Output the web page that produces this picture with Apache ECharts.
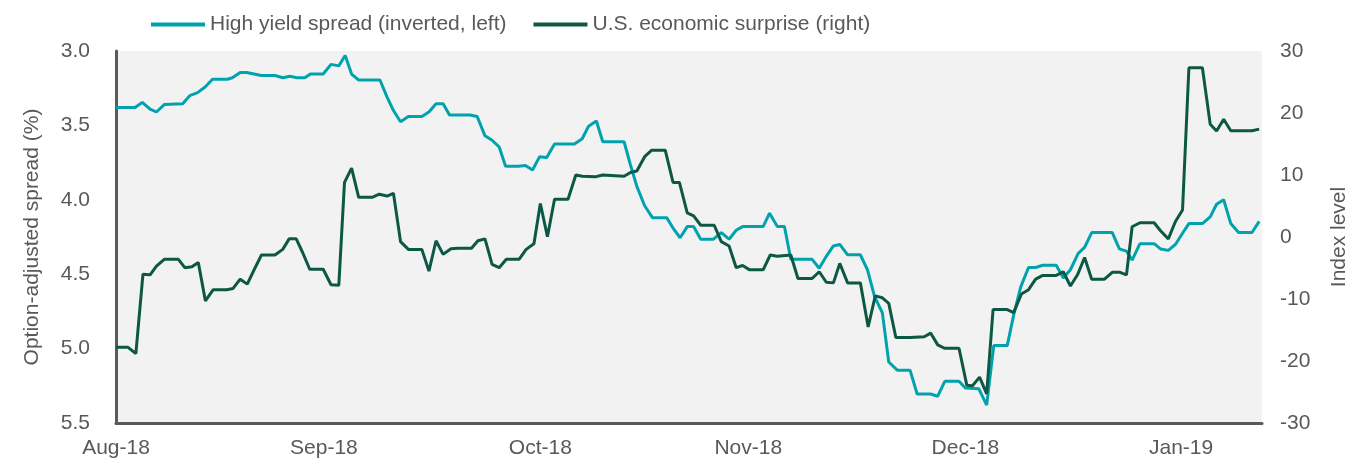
<!DOCTYPE html>
<html>
<head>
<meta charset="utf-8">
<script src="https://cdn.jsdelivr.net/npm/echarts@6/dist/echarts.min.js"></script>
<style>
  html, body { margin: 0; padding: 0; background: #fff; }
  #chart { width: 1354px; height: 459px; }
</style>
</head>
<body>
<div id="chart"></div>
<script>
// x positions are trading-day steps from the start of Aug-18
var monthLabels = ["Aug-18", "Sep-18", "Oct-18", "Nov-18", "Dec-18", "Jan-19"];
var monthPos = [0, 29.3, 59.8, 89.1, 119.7, 150.1];

// high yield option-adjusted spread (%), plotted inverted on the left axis
var hyDays = [0, 2.7, 3.7, 4.8, 5.7, 6.8, 9.4, 10.4, 11.5, 12.6, 13.6, 15.7, 16.4, 17.5, 18.4, 20.5, 22.4, 23.5, 24.5, 25.5,
  26.6, 27.4, 29.2, 30.3, 31.4, 32.3, 33.2, 34.2, 37.2, 38.2, 39.1, 40.1, 41.2, 43.1, 44.1, 45.1, 46.1, 47.0, 49.9, 50.9,
  52.0, 53.0, 54.0, 54.9, 56.7, 57.7, 58.7, 59.7, 60.7, 61.8, 64.6, 65.7, 66.6, 67.7, 68.6, 71.6, 72.5, 73.4, 74.5, 75.6,
  77.6, 78.5, 79.5, 80.5, 81.4, 82.4, 84.2, 85.3, 86.4, 87.4, 88.3, 91.2, 92.1, 93.2, 94.2, 95.1, 98.1, 99.1, 100.1, 101.1,
  102.0, 103.1, 104.9, 105.9, 106.9, 108.0, 108.9, 110.1, 111.9, 112.9, 114.8, 115.8, 116.8, 118.8, 119.7, 121.6, 122.7, 123.7, 125.6, 126.5,
  127.5, 128.6, 129.6, 130.6, 132.5, 133.5, 134.5, 135.6, 136.5, 137.5, 140.4, 141.4, 142.4, 143.2, 144.3, 146.3, 147.2, 148.3, 149.3, 150.3,
  151.2, 153.1, 154.2, 155.1, 156.1, 157.1, 158.2, 160.1, 161.1];
var hySpread = [3.38, 3.38, 3.345, 3.39, 3.41, 3.36, 3.355, 3.30, 3.28, 3.24, 3.19, 3.19, 3.18, 3.145, 3.145, 3.165, 3.165, 3.18, 3.17, 3.18,
  3.18, 3.155, 3.155, 3.09, 3.10, 3.03, 3.155, 3.195, 3.195, 3.31, 3.40, 3.475, 3.44, 3.44, 3.41, 3.355, 3.355, 3.43, 3.43, 3.44,
  3.57, 3.60, 3.645, 3.775, 3.775, 3.77, 3.80, 3.71, 3.715, 3.625, 3.625, 3.59, 3.505, 3.47, 3.61, 3.61, 3.765, 3.91, 4.04, 4.12,
  4.12, 4.19, 4.255, 4.18, 4.18, 4.265, 4.265, 4.22, 4.265, 4.205, 4.18, 4.18, 4.09, 4.18, 4.18, 4.40, 4.40, 4.46, 4.38, 4.31,
  4.30, 4.37, 4.37, 4.47, 4.65, 4.76, 5.09, 5.145, 5.145, 5.305, 5.305, 5.32, 5.22, 5.22, 5.265, 5.27, 5.38, 4.98, 4.98, 4.775,
  4.585, 4.455, 4.455, 4.44, 4.44, 4.525, 4.47, 4.36, 4.32, 4.22, 4.22, 4.33, 4.345, 4.405, 4.295, 4.295, 4.33, 4.34, 4.30, 4.225,
  4.16, 4.16, 4.115, 4.03, 4.00, 4.16, 4.22, 4.22, 4.145];

// U.S. economic surprise index, right axis
var esDays = [0, 1.7, 2.8, 3.8, 4.8, 5.7, 6.8, 8.8, 9.7, 10.7, 11.6, 12.6, 13.7, 15.6, 16.5, 17.5, 18.5, 19.5, 20.5, 22.4,
  23.5, 24.4, 25.4, 26.3, 27.3, 29.2, 30.3, 31.4, 32.2, 33.2, 34.2, 36.1, 37.1, 38.2, 39.1, 40.1, 41.2, 43.1, 44.1, 45.1,
  46.1, 47.2, 48.2, 50.1, 51.0, 52.0, 53.0, 54.0, 55.0, 56.8, 57.8, 58.9, 59.8, 60.8, 61.8, 63.7, 64.8, 65.7, 67.5, 68.6,
  71.6, 72.5, 73.4, 74.5, 75.5, 77.4, 78.5, 79.4, 80.5, 81.4, 82.4, 84.3, 85.3, 86.4, 87.4, 88.3, 89.3, 91.2, 92.2, 93.2,
  95.1, 96.1, 98.1, 99.1, 100.1, 101.1, 102.0, 103.1, 104.9, 106.0, 107.0, 108.0, 108.9, 109.9, 111.9, 113.9, 114.8, 115.8, 116.8, 118.8,
  119.9, 120.7, 121.7, 122.7, 123.6, 125.6, 126.5, 127.6, 128.6, 129.6, 130.6, 132.5, 133.5, 134.5, 135.5, 136.5, 137.5, 139.3, 140.4, 141.5,
  142.4, 143.2, 144.3, 146.3, 147.2, 148.3, 149.3, 150.3, 151.2, 153.1, 154.2, 155.1, 156.1, 157.1, 160.1, 161.1];
var esIndex = [-17.8, -17.8, -18.8, -6.0, -6.1, -4.7, -3.6, -3.6, -4.95, -4.8, -4.1, -10.3, -8.5, -8.5, -8.3, -6.8, -7.6, -5.2, -2.9, -2.9,
  -2.0, -0.3, -0.3, -2.5, -5.2, -5.2, -7.7, -7.8, 8.8, 11.1, 6.4, 6.4, 6.9, 6.6, 7.05, -0.75, -2.0, -2.0, -5.5, -0.6,
  -2.8, -1.9, -1.8, -1.8, -0.6, -0.3, -4.4, -4.95, -3.6, -3.6, -2.0, -1.1, 5.4, 0.05, 6.1, 6.1, 10.0, 9.8, 9.7, 10.0,
  9.8, 10.4, 10.65, 12.95, 14.0, 14.0, 8.8, 8.8, 3.9, 3.4, 1.9, 1.9, -0.75, -1.45, -4.95, -4.6, -5.3, -5.3, -2.9, -3.1,
  -2.9, -6.7, -6.7, -5.6, -7.3, -7.4, -4.25, -7.4, -7.4, -14.5, -9.5, -9.8, -10.7, -16.2, -16.2, -16.1, -15.5, -17.4, -17.95, -17.95,
  -23.9, -24.0, -22.6, -25.3, -11.7, -11.7, -12.2, -9.2, -8.5, -6.8, -6.2, -6.2, -5.6, -7.9, -6.1, -3.3, -6.8, -6.8, -5.7, -5.7,
  -6.1, 1.65, 2.3, 2.3, 1.0, -0.3, 2.5, 4.35, 27.3, 27.3, 18.2, 17.1, 19.0, 17.15, 17.15, 17.4];

function pairs(xs, ys) {
  return xs.map(function (x, i) { return [x, ys[i]]; });
}

var chart = echarts.init(document.getElementById("chart"));
var grey = "#595959";
var font = "'Liberation Sans', Arial, sans-serif";

chart.setOption({
  animation: false,
  textStyle: { fontFamily: font },
  legend: {
    left: 146,
    top: 9,
    icon: "rect",
    itemWidth: 54,
    itemHeight: 4,
    itemGap: 27,
    textStyle: { color: grey, fontSize: 21, fontFamily: font },
    data: ["High yield spread (inverted, left)", "U.S. economic surprise (right)"]
  },
  grid: {
    left: 116,
    right: 92,
    top: 51,
    bottom: 36,
    outerBoundsMode: "none",
    containLabel: false,
    show: true,
    backgroundColor: "#f2f2f2",
    borderWidth: 0
  },
  xAxis: {
    type: "value",
    min: 0,
    max: 161.5,
    axisLine: { onZero: false, lineStyle: { color: grey, width: 3 } },
    axisTick: { show: false },
    splitLine: { show: false },
    axisLabel: {
      customValues: monthPos,
      color: grey,
      fontSize: 21,
      margin: 15,
      formatter: function (v) {
        var k = monthPos.indexOf(v);
        return k >= 0 ? monthLabels[k] : "";
      }
    }
  },
  yAxis: [
    {
      type: "value",
      inverse: true,
      min: 3.0,
      max: 5.5,
      interval: 0.5,
      name: "Option-adjusted spread (%)",
      nameLocation: "middle",
      nameGap: 73,
      nameRotate: 90,
      nameTextStyle: { color: grey, fontSize: 21 },
      axisLine: { show: true, onZero: false, lineStyle: { color: grey, width: 3 } },
      axisTick: { show: false },
      splitLine: { show: false },
      axisLabel: {
        color: grey,
        fontSize: 21,
        margin: 26,
        formatter: function (v) { return v.toFixed(1); }
      }
    },
    {
      type: "value",
      position: "right",
      min: -30,
      max: 30,
      interval: 10,
      name: "Index level",
      nameLocation: "middle",
      nameGap: 67,
      nameRotate: 90,
      nameTextStyle: { color: grey, fontSize: 21 },
      axisLine: { show: false },
      axisTick: { show: false },
      splitLine: { show: false },
      axisLabel: { color: grey, fontSize: 21, margin: 18 }
    }
  ],
  series: [
    {
      name: "High yield spread (inverted, left)",
      type: "line",
      yAxisIndex: 0,
      showSymbol: false,
      data: pairs(hyDays, hySpread),
      itemStyle: { color: "#00a3ad" },
      lineStyle: { color: "#00a3ad", width: 3 }
    },
    {
      name: "U.S. economic surprise (right)",
      type: "line",
      yAxisIndex: 1,
      showSymbol: false,
      data: pairs(esDays, esIndex),
      itemStyle: { color: "#0d5844" },
      lineStyle: { color: "#0d5844", width: 3 }
    }
  ]
});
</script>
</body>
</html>
